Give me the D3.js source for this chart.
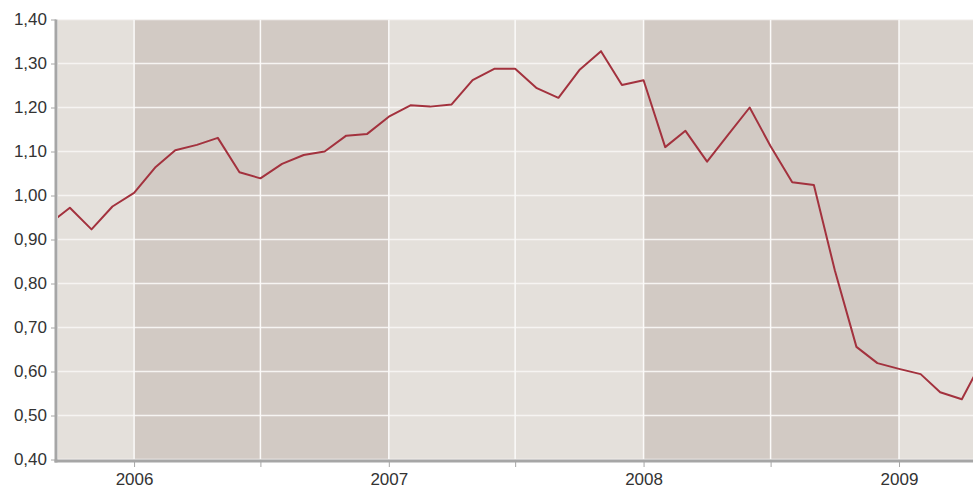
<!DOCTYPE html>
<html>
<head>
<meta charset="utf-8">
<script src="https://cdn.jsdelivr.net/npm/d3@7"></script>
<style>
    body { margin: 0; background: #fff; }
    svg text { font-family: "Liberation Sans", Arial, sans-serif; font-size: 17px; fill: #333; }
</style>
</head>
<body>
<svg width="973" height="488"></svg>
<script>
// monthly values, Sep 2005 - May 2009
const months = [
    "2005-09", "2005-10", "2005-11", "2005-12",
    "2006-01", "2006-02", "2006-03", "2006-04", "2006-05", "2006-06",
    "2006-07", "2006-08", "2006-09", "2006-10", "2006-11", "2006-12",
    "2007-01", "2007-02", "2007-03", "2007-04", "2007-05", "2007-06",
    "2007-07", "2007-08", "2007-09", "2007-10", "2007-11", "2007-12",
    "2008-01", "2008-02", "2008-03", "2008-04", "2008-05", "2008-06",
    "2008-07", "2008-08", "2008-09", "2008-10", "2008-11", "2008-12",
    "2009-01", "2009-02", "2009-03", "2009-04", "2009-05"
];
const values = [
    0.935, 0.972, 0.923, 0.975,
    1.006, 1.065, 1.103, 1.115, 1.131, 1.053,
    1.039, 1.072, 1.092, 1.100, 1.136, 1.140,
    1.179, 1.205, 1.202, 1.207, 1.262, 1.288,
    1.288, 1.244, 1.222, 1.285, 1.328, 1.251,
    1.262, 1.110, 1.147, 1.077, 1.138, 1.200,
    1.112, 1.030, 1.024, 0.830, 0.656, 0.619,
    0.606, 0.594, 0.553, 0.537, 0.627
];
const bandYears = [2005, 2006, 2007, 2008, 2009];
const yTicks = [0.4, 0.5, 0.6, 0.7, 0.8, 0.9, 1.0, 1.1, 1.2, 1.3, 1.4];
const yearLabels = ["2006", "2007", "2008", "2009"];

const svg = d3.select("svg");
const margin = { top: 19.5, right: 0, bottom: 28.5, left: 58 };
const width = 973 - margin.left - margin.right;
const height = 488 - margin.top - margin.bottom;

const parseMonth = d3.timeParse("%Y-%m");
const data = months.map((m, i) => ({ date: parseMonth(m), value: values[i] }));

const x = d3.scaleTime()
    .domain([new Date(2005, 8, 14), new Date(2009, 3, 17)])
    .range([0, width]);
const y = d3.scaleLinear()
    .domain([0.4, 1.4])
    .range([height, 0]);

const locale = d3.formatLocale({ decimal: ",", thousands: ".", grouping: [3], currency: ["", " €"] });
const fmt = locale.format(".2f");

const g = svg.append("g").attr("transform", `translate(${margin.left},${margin.top})`);

svg.append("defs").append("clipPath").attr("id", "plot-clip")
    .append("rect").attr("width", width).attr("height", height);

// alternating year bands
const plot = g.append("g").attr("clip-path", "url(#plot-clip)");
plot.selectAll("rect.band")
    .data(bandYears)
    .enter()
    .append("rect")
    .attr("class", "band")
    .attr("x", d => x(new Date(d, 0, 1)))
    .attr("width", d => x(new Date(d + 1, 0, 1)) - x(new Date(d, 0, 1)))
    .attr("y", 0)
    .attr("height", height)
    .attr("fill", d => (d % 2 === 0 ? "#d2cac4" : "#e4e0db"));

// grid
const halfYears = d3.timeMonth.every(6).range(x.domain()[0], x.domain()[1]);
plot.selectAll("line.hgrid")
    .data(yTicks)
    .enter()
    .append("line")
    .attr("x1", 0).attr("x2", width)
    .attr("y1", d => y(d)).attr("y2", d => y(d))
    .attr("stroke", "#f6f4f2")
    .attr("stroke-width", 1.5);
plot.selectAll("line.vgrid")
    .data(halfYears)
    .enter()
    .append("line")
    .attr("x1", d => x(d)).attr("x2", d => x(d))
    .attr("y1", 0).attr("y2", height)
    .attr("stroke", "#fbfaf9")
    .attr("stroke-width", 1.5);

// series
const line = d3.line()
    .x(d => x(d.date))
    .y(d => y(d.value));
plot.append("path")
    .datum(data)
    .attr("fill", "none")
    .attr("stroke", "#a3323e")
    .attr("stroke-width", 2)
    .attr("stroke-linejoin", "round")
    .attr("d", line);

// axes
const yAxis = g.append("g")
    .attr("transform", "translate(-2,0)")
    .call(d3.axisLeft(y).tickValues(yTicks).tickFormat(fmt).tickSize(5).tickPadding(4));
const xAxis = g.append("g")
    .attr("transform", `translate(0,${height + 1.5})`)
    .call(d3.axisBottom(x).tickValues(halfYears).tickSize(6).tickPadding(6)
        .tickFormat(d => (d.getMonth() === 0 ? yearLabels[d.getFullYear() - 2006] : "")));

[yAxis, xAxis].forEach(a => {
    a.select(".domain").attr("stroke", "#a6a6a6").attr("stroke-width", 3);
    a.selectAll(".tick line").attr("stroke", "#a6a6a6");
    a.selectAll("text").attr("fill", "#333").style("font-size", "17px");
});
yAxis.select(".domain").attr("d", `M0,0V${height + 3}`);
xAxis.select(".domain").attr("d", `M-3.5,0H${width}`);
</script>
</body>
</html>
